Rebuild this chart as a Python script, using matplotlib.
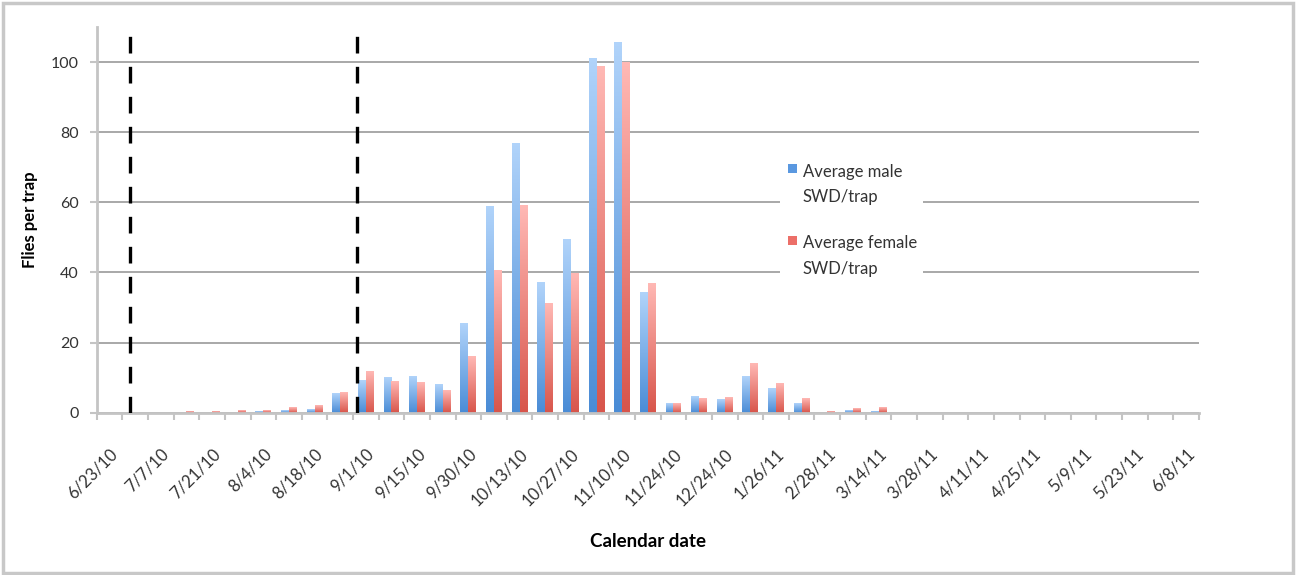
import numpy as np
import matplotlib
matplotlib.use('Agg')
from matplotlib import pyplot as plt
from matplotlib.colors import LinearSegmentedColormap
from matplotlib.patches import Rectangle

plt.rcParams['font.family'] = ['Lato', 'DejaVu Sans']

# trap counts, one value per sampling date (43 dates, every 2nd one labelled)
male = [0, 0, 0, 0, 0, 0, 0.3, 0.6, 1.1, 5.5,
        9.3, 10.1, 10.5, 8.0, 25.6, 58.9, 76.9, 37.2, 49.4, 101.1,
        105.6, 34.5, 2.7, 4.6, 3.8, 10.3, 7.0, 2.8, 0, 0.8,
        0.5, 0, 0, 0, 0, 0, 0, 0, 0, 0,
        0, 0, 0]
female = [0, 0, 0, 0.3, 0.4, 0.6, 0.7, 1.5, 2.0, 5.9,
          11.9, 9.0, 8.7, 6.5, 16.2, 40.5, 59.1, 31.2, 39.7, 98.8,
          100.0, 37.0, 2.7, 4.1, 4.3, 14.1, 8.4, 4.1, 0.3, 1.2,
          1.5, 0, 0, 0, 0, 0, 0, 0, 0, 0,
          0, 0, 0]
date_labels = ['6/23/10', '7/7/10', '7/21/10', '8/4/10', '8/18/10', '9/1/10',
               '9/15/10', '9/30/10', '10/13/10', '10/27/10', '11/10/10',
               '11/24/10', '12/24/10', '1/26/11', '2/28/11', '3/14/11',
               '3/28/11', '4/11/11', '4/25/11', '5/9/11', '5/23/11', '6/8/11']
series_names = ['Average male\nSWD/trap', 'Average female\nSWD/trap']
# dashed markers (in category units)
vlines = [0.78, 9.66]

n = len(male)
x = np.arange(n)
w = 0.31

fig = plt.figure(figsize=(12.96, 5.75), dpi=100)
ax = fig.add_axes([0.07461, 0.28226, 0.85054, 0.67078])


def grad_bars(bars, c_bot, c_top):
    cmap = LinearSegmentedColormap.from_list('g', [c_bot, c_top])
    g = np.linspace(0, 1, 64).reshape(-1, 1)
    for b in bars:
        bx = b.get_x(); bw = b.get_width(); bh = b.get_height()
        b.set_visible(False)
        if bh <= 0:
            continue
        ax.imshow(g, cmap=cmap, extent=[bx, bx + bw, 0, bh], origin='lower',
                  aspect='auto', zorder=2, interpolation='bilinear')


b1 = ax.bar(x - w/2, male, w)
b2 = ax.bar(x + w/2, female, w)
grad_bars(b1, '#4a8cd6', '#b0d3fa')
grad_bars(b2, '#d8554b', '#ffb8b4')

for xv in vlines:
    ax.plot([xv, xv], [0, 109.3], color='black', lw=2.4, ls=(0, (5, 4)), zorder=4)

ax.set_xlim(-0.5, n - 0.5)
ax.set_ylim(0, 110)

# axes styling
for s in ['top', 'right']:
    ax.spines[s].set_visible(False)
for s in ['left', 'bottom']:
    ax.spines[s].set_color('#c4c4c4')
    ax.spines[s].set_linewidth(2)
ax.set_yticks([0, 20, 40, 60, 80, 100])
ax.yaxis.grid(True, color='#a8a8a8', lw=1.4)
ax.set_axisbelow(True)
ax.tick_params(axis='y', length=5, width=1.5, color='#c4c4c4', pad=8,
               labelsize=11.5, labelcolor='#333333')

ax.set_xticks(np.arange(-0.5, n, 1))
ax.set_xticklabels([])
ax.tick_params(axis='x', which='major', length=5, width=1.5, color='#c4c4c4')
ax.set_xticks(np.arange(0, n, 2), minor=True)
ax.set_xticklabels(date_labels, minor=True, rotation=45, ha='right',
                   rotation_mode='anchor', fontsize=12, color='#333333')
ax.tick_params(axis='x', which='minor', length=0, pad=24)

ax.set_ylabel('Flies per trap', fontsize=12, fontweight='bold')
ax.yaxis.set_label_coords(-0.0533, 0.5)
ax.set_xlabel('Calendar date', fontsize=13.5, fontweight='bold')
ax.xaxis.set_label_coords(0.5, -0.313)

# legend box (drawn by hand so the swatch sits by the first text line)
ax.add_patch(Rectangle((0.620, 0.30), 0.130, 0.40, transform=ax.transAxes,
                       facecolor='white', edgecolor='none', zorder=3))
for i, (nm, col) in enumerate(zip(series_names, ['#5a98e0', '#ec6f68'])):
    ycap = 0.642 - i * 0.1865
    ax.add_patch(Rectangle((0.6272, ycap - 0.0205), 0.0080, 0.0225,
                           transform=ax.transAxes, facecolor=col,
                           edgecolor='none', zorder=4))
    ax.text(0.6407, ycap + 0.004, nm, transform=ax.transAxes, ha='left', va='top',
            fontsize=12, color='#333333', linespacing=1.75, zorder=5)

fig.add_artist(Rectangle((0.0025, 0.004), 0.9955, 0.99, transform=fig.transFigure,
                         fill=False, edgecolor='#c8c8c8', lw=2.5))

fig.savefig('out.png', dpi=100)
